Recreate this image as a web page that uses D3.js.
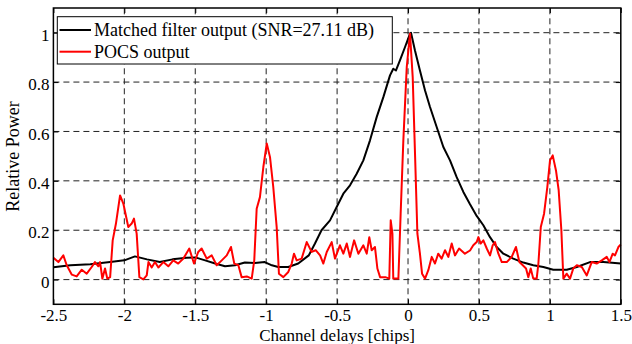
<!DOCTYPE html>
<html>
<head>
<meta charset="utf-8">
<script src="https://cdn.jsdelivr.net/npm/d3@7"></script>
<style>
  body { margin: 0; background: #fff; }
  text { font-family: "Liberation Serif", "Times New Roman", serif; }
</style>
</head>
<body>
<div id="viz"></div>
<script>
// matched filter output (black)
const mfX = [-2.5, -2.38, -2.24, -2.1, -2.0, -1.925, -1.84, -1.75, -1.66, -1.56, -1.5, -1.43, -1.36, -1.29,
  -1.22, -1.15, -1.08, -1.01, -0.96, -0.915, -0.844, -0.774, -0.70, -0.656, -0.61, -0.55, -0.503, -0.456,
  -0.409, -0.362, -0.315, -0.268, -0.221, -0.174, -0.127, -0.104, -0.085, -0.057, -0.021, 0.014, 0.021,
  0.049, 0.084, 0.12, 0.155, 0.202, 0.249, 0.296, 0.343, 0.39, 0.437, 0.484, 0.531, 0.578, 0.625, 0.672,
  0.742, 0.813, 0.883, 0.954, 1.024, 1.119, 1.19, 1.283, 1.377, 1.5];
const mfY = [0.05, 0.058, 0.062, 0.071, 0.078, 0.094, 0.082, 0.071, 0.082, 0.089, 0.09, 0.078, 0.065, 0.054,
  0.058, 0.069, 0.067, 0.071, 0.058, 0.051, 0.051, 0.065, 0.098, 0.146, 0.2, 0.24, 0.294, 0.348,
  0.382, 0.429, 0.483, 0.564, 0.658, 0.739, 0.827, 0.854, 0.847, 0.888, 0.942, 0.996, 1.0,
  0.928, 0.847, 0.766, 0.699, 0.618, 0.537, 0.483, 0.415, 0.355, 0.305, 0.258, 0.22, 0.172, 0.132, 0.105,
  0.085, 0.069, 0.058, 0.051, 0.04, 0.04, 0.051, 0.071, 0.071, 0.065];

// POCS output (red)
const pocsX = [-2.5, -2.465, -2.43, -2.406, -2.37, -2.336, -2.30, -2.265, -2.23, -2.207, -2.183, -2.171,
  -2.155, -2.136, -2.12, -2.10, -2.082, -2.059, -2.03, -2.007, -1.972, -1.948, -1.932, -1.913, -1.894,
  -1.866, -1.842, -1.83, -1.807, -1.784, -1.76, -1.725, -1.69, -1.655, -1.62, -1.584, -1.542, -1.509,
  -1.479, -1.455, -1.419, -1.384, -1.349, -1.313, -1.278, -1.248, -1.225, -1.196, -1.173, -1.137, -1.102,
  -1.084, -1.067, -1.044, -1.02, -0.996, -0.973, -0.95, -0.926, -0.91, -0.879, -0.844, -0.82, -0.804,
  -0.785, -0.75, -0.714, -0.679, -0.651, -0.62, -0.597, -0.573, -0.538, -0.515, -0.48, -0.456, -0.432,
  -0.409, -0.38, -0.35, -0.315, -0.291, -0.273, -0.256, -0.233, -0.216, -0.197, -0.16, -0.132, -0.122,
  -0.11, -0.104, -0.068, -0.052, -0.033, -0.009, 0.014, 0.033, 0.05, 0.066, 0.084, 0.099, 0.12, 0.143,
  0.167, 0.19, 0.213, 0.237, 0.261, 0.284, 0.308, 0.331, 0.36, 0.401, 0.437, 0.46, 0.484, 0.496, 0.512,
  0.531, 0.555, 0.578, 0.597, 0.613, 0.637, 0.661, 0.696, 0.731, 0.761, 0.785, 0.809, 0.832, 0.848,
  0.865, 0.883, 0.907, 0.919, 0.936, 0.959, 0.982, 1.001, 1.02, 1.043, 1.062, 1.081, 1.095, 1.119,
  1.142, 1.165, 1.19, 1.225, 1.26, 1.295, 1.33, 1.366, 1.401, 1.42, 1.443, 1.459, 1.483, 1.5];
const pocsY = [0.089, 0.071, 0.098, 0.058, 0.02, 0.013, 0.04, 0.024, 0.051, 0.071, 0.054, 0.071,
  0.004, 0.045, 0.004, 0.01, 0.159, 0.227, 0.341, 0.308, 0.213, 0.227, 0.247, 0.186, 0.01,
  0.001, 0.017, 0.071, 0.049, 0.071, 0.049, 0.071, 0.054, 0.078, 0.065, 0.085, 0.126, 0.065,
  0.112, 0.126, 0.085, 0.098, 0.058, 0.078, 0.098, 0.132, 0.065, 0.058, 0.01, 0.013, 0.004,
  0.078, 0.287, 0.334, 0.456, 0.551, 0.496, 0.375, 0.213, 0.024, 0.01, 0.031, 0.065, 0.105,
  0.078, 0.085, 0.152, 0.112, 0.119, 0.098, 0.065, 0.112, 0.152, 0.085, 0.139, 0.105, 0.146,
  0.092, 0.159, 0.105, 0.139, 0.105, 0.172, 0.119, 0.132, 0.045, 0.01, 0.01, 0.004, 0.24,
  0.186, 0.004, 0.004, 0.267, 0.564, 0.861, 0.996, 0.82, 0.496, 0.186, 0.105, 0.024, 0.004, 0.038,
  0.092, 0.065, 0.105, 0.085, 0.119, 0.092, 0.146, 0.098, 0.126, 0.105, 0.118, 0.139, 0.152, 0.172, 0.146,
  0.159, 0.126, 0.098, 0.139, 0.152, 0.105, 0.071, 0.071, 0.092, 0.132, 0.071, 0.058, 0.045, 0.01,
  0.045, 0.004, 0.004, 0.065, 0.213, 0.267, 0.375, 0.483, 0.503, 0.442, 0.362, 0.2, 0.004, 0.024,
  0.004, 0.045, 0.058, 0.051, 0.017, 0.071, 0.065, 0.078, 0.092, 0.071, 0.105, 0.098, 0.132, 0.142];

const xTicks = [-2.5, -2, -1.5, -1, -0.5, 0, 0.5, 1, 1.5];
const yTicks = [0, 0.2, 0.4, 0.6, 0.8, 1];
const seriesNames = ["Matched filter output (SNR=27.11 dB)", "POCS output"];
const seriesColors = ["#000000", "#ff0000"];

const W = 632, H = 344;
const svg = d3.select("#viz").append("svg")
  .attr("width", W).attr("height", H);

const x = d3.scaleLinear().domain([-2.5, 1.5]).range([53.4, 620.8]);
const y = d3.scaleLinear().domain([-0.1, 1.1]).range([304.3, 8]);

// grid
const grid = svg.append("g");
grid.selectAll(".vg").data(xTicks.slice(1, -1)).enter().append("line")
  .attr("x1", d => x(d)).attr("x2", d => x(d))
  .attr("y1", y.range()[0]).attr("y2", y.range()[1])
  .attr("stroke", "#222").attr("stroke-width", 1).attr("stroke-dasharray", "6,4");
grid.selectAll(".hg").data(yTicks).enter().append("line")
  .attr("x1", x.range()[0]).attr("x2", x.range()[1])
  .attr("y1", d => y(d)).attr("y2", d => y(d))
  .attr("stroke", "#222").attr("stroke-width", 1).attr("stroke-dasharray", "6,4");

// axes (ticks inward)
const fmt = d => String(d);
const axB = svg.append("g").attr("transform", `translate(0,${y.range()[0]})`)
  .call(d3.axisBottom(x).tickValues(xTicks).tickFormat(fmt).tickSizeInner(-5).tickSizeOuter(0).tickPadding(5));
const axL = svg.append("g").attr("transform", `translate(${x.range()[0]},0)`)
  .call(d3.axisLeft(y).tickValues(yTicks).tickFormat(fmt).tickSizeInner(-5).tickSizeOuter(0).tickPadding(4));
const axT = svg.append("g").attr("transform", `translate(0,${y.range()[1]})`)
  .call(d3.axisTop(x).tickValues(xTicks).tickFormat("").tickSizeInner(-5).tickSizeOuter(0));
const axR = svg.append("g").attr("transform", `translate(${x.range()[1]},0)`)
  .call(d3.axisRight(y).tickValues(yTicks).tickFormat("").tickSizeInner(-5).tickSizeOuter(0));
[axB, axL, axT, axR].forEach(a => {
  a.select(".domain").remove();
  a.selectAll("line").attr("stroke", "#000");
  a.selectAll("text").attr("font-size", 17).attr("fill", "#000")
    .style("font-family", '"Liberation Serif", serif');
});
axL.selectAll("text").attr("dy", "0.45em");

// data lines
const line = d3.line().x(d => x(d[0])).y(d => y(d[1]));
svg.append("path").datum(mfX.map((v, i) => [v, mfY[i]]))
  .attr("fill", "none").attr("stroke", seriesColors[0]).attr("stroke-width", 2)
  .attr("stroke-linejoin", "round").attr("d", line);
svg.append("path").datum(pocsX.map((v, i) => [v, pocsY[i]]))
  .attr("fill", "none").attr("stroke", seriesColors[1]).attr("stroke-width", 2)
  .attr("stroke-linejoin", "round").attr("d", line);

// box
svg.append("rect")
  .attr("x", x.range()[0]).attr("y", y.range()[1])
  .attr("width", x.range()[1] - x.range()[0]).attr("height", y.range()[0] - y.range()[1])
  .attr("fill", "none").attr("stroke", "#000").attr("stroke-width", 1.5);

// legend
const lg = svg.append("g");
lg.append("rect").attr("x", 57.3).attr("y", 16.7).attr("width", 335).attr("height", 47.3)
  .attr("fill", "#fff").attr("stroke", "#000").attr("stroke-width", 1);
seriesNames.forEach((name, i) => {
  const ly = 30 + i * 21.7;
  lg.append("line").attr("x1", 59.5).attr("x2", 91).attr("y1", ly).attr("y2", ly)
    .attr("stroke", seriesColors[i]).attr("stroke-width", 2);
  lg.append("text").attr("x", 94).attr("y", ly).attr("dy", "0.35em")
    .attr("font-size", 18).attr("fill", "#000").text(name);
});

// axis labels
svg.append("text").attr("x", (x.range()[0] + x.range()[1]) / 2).attr("y", 340.5)
  .attr("text-anchor", "middle").attr("font-size", 17).text("Channel delays [chips]");
svg.append("text").attr("transform", "translate(18.5,156.5) rotate(-90)")
  .attr("text-anchor", "middle").attr("font-size", 18).text("Relative Power");
</script>
</body>
</html>
